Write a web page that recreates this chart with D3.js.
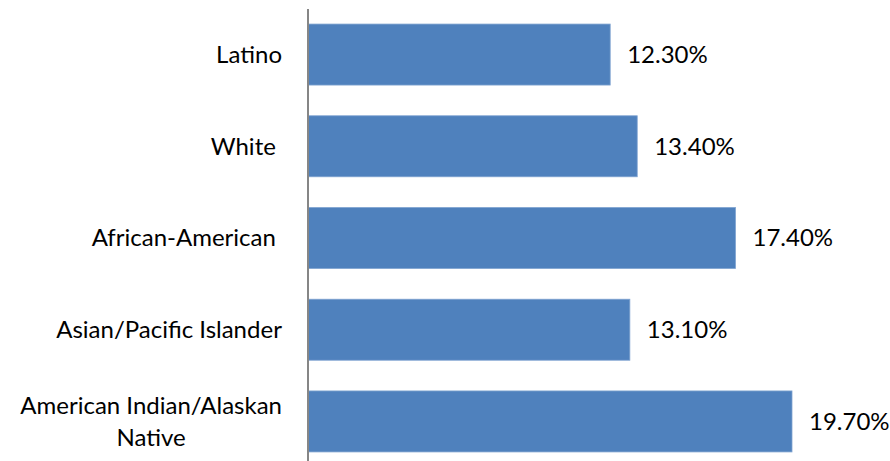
<!DOCTYPE html>
<html>
<head>
<meta charset="utf-8">
<script src="https://cdn.jsdelivr.net/npm/d3@7"></script>
<style>
  html, body { margin: 0; padding: 0; background: #fff; }
  svg { display: block; }
  text { font-family: Lato, "Open Sans", sans-serif; fill: #000; }
</style>
</head>
<body>
<svg id="chart" width="890" height="461"></svg>
<script>
// Share of each group, in percent
const categories = ["Latino", "White ", "African-American ", "Asian/Pacific Islander", "American Indian/Alaskan\nNative"];
const values = [12.3, 13.4, 17.4, 13.1, 19.7];
const valueLabels = ["12.30%", "13.40%", "17.40%", "13.10%", "19.70%"];

const svg = d3.select("#chart");
const axisX = 308;

const x = d3.scaleLinear().domain([0, 19.7]).range([axisX, 792]);
const y = d3.scaleBand()
  .domain(categories)
  .range([8.7, 467.3])
  .paddingInner(0.335)
  .paddingOuter(0.1675);

const data = categories.map((c, i) => ({ cat: c, value: values[i], label: valueLabels[i] }));

// Bars
svg.selectAll("rect.bar")
  .data(data)
  .join("rect")
  .attr("class", "bar")
  .attr("x", x(0) + 0.5)
  .attr("y", d => y(d.cat))
  .attr("width", d => x(d.value) - x(0) - 0.5)
  .attr("height", y.bandwidth())
  .attr("fill", "#4F81BD")
  .attr("stroke", "#7FA3D0")
  .attr("stroke-width", 0.8);

// Vertical category axis line
svg.append("line")
  .attr("x1", axisX).attr("x2", axisX)
  .attr("y1", 9).attr("y2", 461)
  .attr("stroke", "#868686")
  .attr("stroke-width", 2);

// Category labels (right-aligned block, lines centred within it)
const fs = 24;
svg.selectAll("g.cat")
  .data(data)
  .join("g")
  .attr("class", "cat")
  .each(function(d) {
    const lines = d.cat.split("\n");
    const g = d3.select(this);
    const cy = y(d.cat) + y.bandwidth() / 2;
    const lh = 32;
    const t = g.append("text")
      .attr("font-size", fs)
      .attr("text-anchor", "middle")
      .attr("xml:space", "preserve");
    lines.forEach((ln, i) => {
      t.append("tspan")
        .attr("x", 0)
        .attr("y", cy + (i - (lines.length - 1) / 2) * lh)
        .attr("dy", "0.35em")
        .text(ln);
    });
    const w = t.node().getBBox().width;
    t.attr("transform", `translate(${282 - w / 2},0)`);
  });

// Value labels
svg.selectAll("text.val")
  .data(data)
  .join("text")
  .attr("class", "val")
  .attr("x", d => x(d.value) + 17)
  .attr("y", d => y(d.cat) + y.bandwidth() / 2)
  .attr("dy", "0.35em")
  .attr("font-size", fs)
  .text(d => d.label);
</script>
</body>
</html>
